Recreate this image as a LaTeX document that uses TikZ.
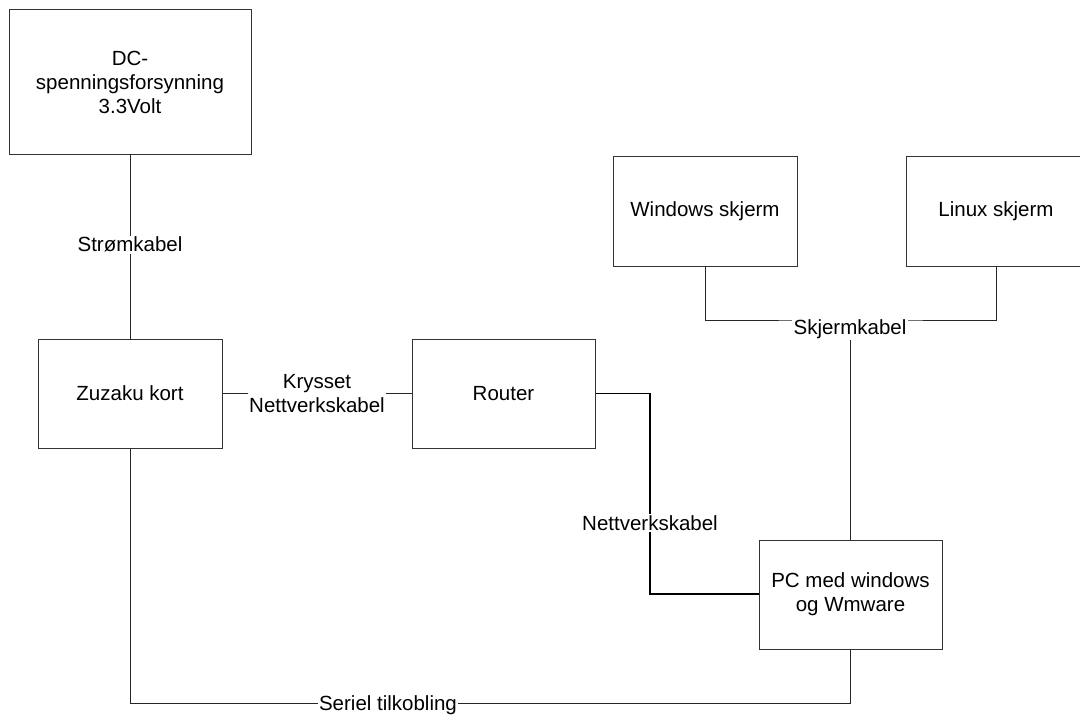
\documentclass[tikz,border=0pt]{standalone}
\usepackage{fontspec}
\setmainfont{Liberation Sans}
\begin{document}
\begin{tikzpicture}[x=1pt,y=-1pt,
  font=\fontsize{20.5}{24}\selectfont,
  box/.style={draw=black!80, line width=1pt, fill=white, rectangle, inner sep=0pt, align=center},
  wire/.style={draw=black!85, line width=1pt},
  netwire/.style={draw=black, line width=1.8pt},
  lbl/.style={fill=white, inner sep=1.5pt, align=center}]
\useasboundingbox (0,0) rectangle (1080,717);

% equipment
\node[box, minimum width=242pt, minimum height=144pt] (dc) at (130,82)
  {DC-\\spenningsforsynning\\3.3Volt};
\node[box, minimum width=184pt, minimum height=109pt] (zuz) at (130,393.5) {Zuzaku kort};
\node[box, minimum width=183pt, minimum height=109pt] (router) at (503.5,393.5) {Router};
\node[box, minimum width=184pt, minimum height=110pt] (win) at (705,211) {Windows skjerm};
\node[box, minimum width=180pt, minimum height=110pt] (lin) at (996,211) {Linux skjerm};
\node[box, minimum width=183pt, minimum height=109pt] (pc) at (850.5,594.5) {PC med windows\\og Wmware};

% power cable
\draw[wire] (dc.south) -- node[lbl, pos=0.49] {Strømkabel} (zuz.north);

% crossed network cable
\draw[wire] (zuz.east) -- node[lbl] {Krysset\\Nettverkskabel} (router.east -| router.west);

% router to PC
\coordinate (n1) at (650,393.5);
\coordinate (n2) at (650,594);
\draw[netwire] (router.east) -- (n1) -- node[lbl, pos=0.645] {Nettverkskabel} (n2) -- (pc.west |- n2);

% monitor cables
\coordinate (sj) at (850.5,320);
\draw[wire] (win.south) |- (sj) -| (lin.south);
\draw[wire] (sj) -- (pc.north);
\node[lbl] (sklbl) at (850,329) {Skjermkabel};

% serial link
\coordinate (s1) at (130,703);
\draw[wire] (zuz.south) -- (s1) -| (pc.south);
\node[lbl] (serlbl) at (388,705) {Seriel tilkobling};
\end{tikzpicture}
\end{document}
